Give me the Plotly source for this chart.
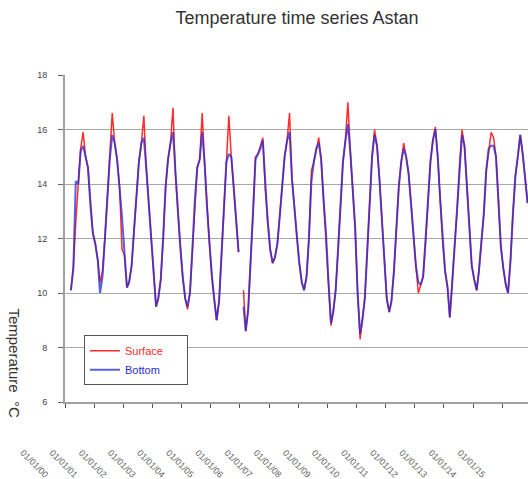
import pandas as pd
import plotly.graph_objects as go

# Monthly values (mid-month), March 2000 -> November 2015
surface = [
    # 2000 (Mar-Dec)
    10.1, 11.0, 12.6, 14.2, 15.3, 15.9, 15.0, 14.6, 13.2, 12.2,
    # 2001
    11.8, 11.2, 10.4, 10.8, 12.0, 13.6, 15.0, 16.6, 15.5, 14.9, 13.9, 11.6,
    # 2002
    11.4, 10.2, 10.4, 11.0, 12.3, 13.7, 14.8, 15.5, 16.5, 14.6, 13.3, 12.0,
    # 2003
    10.9, 9.5, 9.8, 10.5, 12.0, 13.9, 14.9, 15.5, 16.8, 14.4, 13.0, 11.7,
    # 2004
    10.6, 9.8, 9.4, 10.0, 11.6, 13.4, 14.6, 14.9, 16.6, 14.8, 13.1, 11.8,
    # 2005
    10.6, 9.7, 9.0, 9.7, 11.3, 13.2, 14.8, 16.5, 15.0, 13.9, 12.8, 11.5,
    # 2006
    None, 10.1, 8.6, 9.4, 11.0, 13.0, 15.0, 15.1, 15.4, 15.7, 13.8, 12.6,
    # 2007
    11.6, 11.1, 11.3, 11.8, 12.8, 14.1, 15.0, 15.6, 16.6, 14.2, 13.0, 12.1,
    # 2008
    11.1, 10.4, 10.1, 10.6, 12.0, 14.5, 14.8, 15.3, 15.7, 14.9, 13.4, 12.2,
    # 2009
    10.4, 8.8, 9.3, 10.1, 11.6, 13.4, 14.8, 15.6, 17.0, 15.2, 13.9, 12.4,
    # 2010
    10.0, 8.3, 9.0, 9.8, 11.5, 13.5, 15.0, 16.0, 15.4, 14.2, 12.7, 11.0,
    # 2011
    9.8, 9.3, 9.7, 10.8, 12.5, 13.9, 14.8, 15.5, 15.0, 14.4, 13.3, 12.0,
    # 2012
    11.0, 10.0, 10.3, 10.6, 11.8, 13.4, 14.8, 15.6, 16.1, 15.0, 13.4, 11.9,
    # 2013
    10.8, 10.2, 9.1, 10.4, 11.8, 13.1, 14.7, 16.0, 15.4, 13.9, 12.4, 11.0,
    # 2014
    10.5, 10.1, 10.8, 11.8, 12.9, 14.5, 15.3, 15.9, 15.7, 15.0, 13.4, 11.7,
    # 2015 (Jan-Nov)
    10.9, 10.3, 10.0, 11.2, 12.9, 14.3, 15.0, 15.8, 15.1, 14.2, 13.3,
]

bottom = [
    # 2000 (Mar-Dec)
    10.1, 10.9, 14.1, 14.0, 15.2, 15.4, 15.0, 14.6, 13.2, 12.2,
    # 2001
    11.8, 11.2, 10.0, 10.6, 12.0, 13.6, 14.9, 15.8, 15.5, 14.9, 13.9, 12.8,
    # 2002
    11.5, 10.2, 10.4, 11.0, 12.3, 13.7, 14.8, 15.5, 15.7, 14.6, 13.3, 12.0,
    # 2003
    10.9, 9.5, 9.8, 10.5, 12.0, 13.9, 14.9, 15.5, 15.9, 14.4, 13.0, 11.7,
    # 2004
    10.6, 9.8, 9.5, 10.0, 11.6, 13.4, 14.6, 14.9, 15.9, 14.8, 13.1, 11.8,
    # 2005
    10.6, 9.7, 9.0, 9.7, 11.3, 13.2, 14.8, 15.1, 15.0, 13.9, 12.8, 11.5,
    # 2006
    None, 9.5, 8.6, 9.4, 11.0, 13.0, 14.9, 15.1, 15.3, 15.6, 13.8, 12.6,
    # 2007
    11.6, 11.1, 11.3, 11.8, 12.8, 14.1, 15.0, 15.6, 15.9, 14.2, 13.0, 12.1,
    # 2008
    11.1, 10.4, 10.1, 10.6, 12.0, 14.1, 14.8, 15.3, 15.5, 14.9, 13.4, 12.2,
    # 2009
    10.4, 8.9, 9.3, 10.1, 11.6, 13.4, 14.8, 15.6, 16.2, 15.2, 13.9, 12.4,
    # 2010
    10.0, 8.5, 9.0, 9.8, 11.5, 13.5, 15.0, 15.8, 15.4, 14.2, 12.7, 11.0,
    # 2011
    9.8, 9.3, 9.7, 10.8, 12.5, 13.9, 14.8, 15.3, 15.0, 14.4, 13.3, 12.0,
    # 2012
    11.0, 10.4, 10.3, 10.6, 11.8, 13.4, 14.8, 15.6, 16.0, 15.0, 13.4, 11.9,
    # 2013
    10.8, 10.2, 9.1, 10.4, 11.8, 13.1, 14.7, 15.8, 15.4, 13.9, 12.4, 11.0,
    # 2014
    10.5, 10.1, 10.8, 11.8, 12.9, 14.5, 15.3, 15.4, 15.4, 15.0, 13.4, 11.7,
    # 2015 (Jan-Nov)
    10.9, 10.3, 10.0, 11.2, 12.9, 14.3, 15.0, 15.8, 15.1, 14.2, 13.3,
]

tick_dates = [f"{y}-01-01" for y in range(2000, 2016)]
tick_labels = [f"01/01/{y % 100:02d}" for y in range(2000, 2016)]
y_ticks = [6, 8, 10, 12, 14, 16, 18]

dates = pd.date_range("2000-03-01", periods=len(surface), freq="MS") + pd.Timedelta(days=14)

pad = "&nbsp;" * 6

fig = go.Figure()
fig.add_trace(go.Scatter(
    x=dates, y=surface, mode="lines",
    name="<span style='color:#ff2a2a'>Surface</span>" + pad,
    line=dict(color="rgb(255,45,45)", width=1.5),
    connectgaps=False,
))
fig.add_trace(go.Scatter(
    x=dates, y=bottom, mode="lines",
    name="<span style='color:#2a2ad8'>Bottom</span>" + pad,
    line=dict(color="rgb(40,40,210)", width=2),
    opacity=0.75,
    connectgaps=False,
))

fig.update_layout(
    width=528, height=479,
    margin=dict(l=65, r=0, t=75, b=77),
    paper_bgcolor="white", plot_bgcolor="white",
    font=dict(family="Liberation Sans, Arial, sans-serif", color="#333"),
    title=dict(text="Temperature time series Astan", x=0.5625, xanchor="center",
               y=1 - 18 / 479, yanchor="middle", yref="container",
               font=dict(size=18, color="#333")),
    legend=dict(x=0.041, y=0.204, xanchor="left", yanchor="top",
                bordercolor="#555", borderwidth=1, bgcolor="white",
                font=dict(size=11), itemwidth=30, tracegroupgap=2),
    showlegend=True,
)
fig.update_xaxes(
    range=["2000-01-01", "2015-11-20"],
    tickvals=tick_dates, ticktext=tick_labels, tickangle=45,
    tickfont=dict(size=9, color="#666"),
    ticks="outside", ticklen=4, tickcolor="#555",
    showgrid=False, showline=True, linecolor="#a0a0a0", linewidth=2,
    zeroline=False, ticklabelstandoff=36, ticklabelshift=-42,
    automargin=False,
)
fig.update_yaxes(
    range=[6, 18], tickvals=y_ticks,
    tickfont=dict(size=9, color="#444"),
    ticks="outside", ticklen=5, tickcolor="#666",
    showgrid=True, gridcolor="#a8a8a8", gridwidth=1,
    showline=True, linecolor="#a0a0a0", linewidth=2, zeroline=False,
    ticklabelstandoff=9, automargin=False,
)
fig.add_annotation(
    text="Temperature  °C", textangle=90, showarrow=False,
    xref="paper", yref="paper", x=-0.108, y=0.118,
    xanchor="center", yanchor="middle",
    font=dict(size=15, color="#333"),
)

fig.write_html("out.html")
